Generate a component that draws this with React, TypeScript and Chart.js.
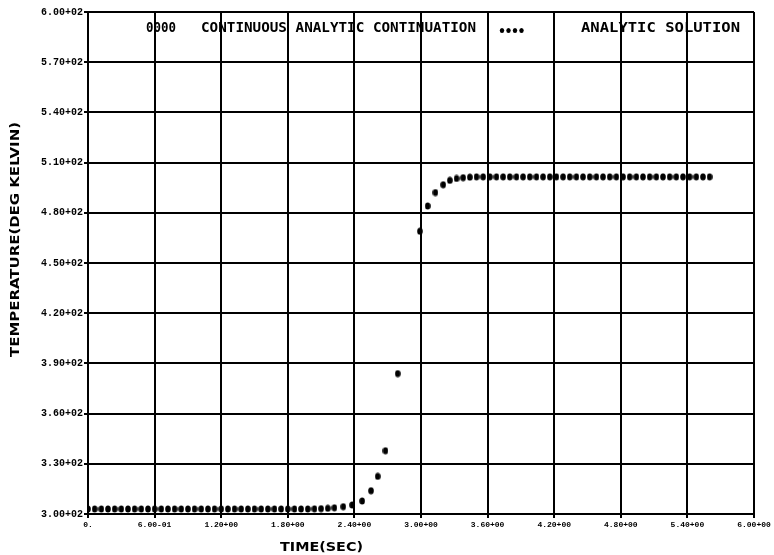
import React, { useEffect, useRef } from "react";
import { Chart, registerables } from "chart.js";

Chart.register(...registerables);

// Time samples (s) and computed temperature (K)
const TIME_SEC = [
  0.0, 0.06, 0.12, 0.18, 0.24, 0.3, 0.36, 0.42, 0.48, 0.54,
  0.6, 0.66, 0.72, 0.78, 0.84, 0.9, 0.96, 1.02, 1.08, 1.14,
  1.2, 1.26, 1.32, 1.38, 1.44, 1.5, 1.56, 1.62, 1.68, 1.74,
  1.8, 1.86, 1.92, 1.98, 2.04, 2.1, 2.16, 2.22,
  2.3, 2.38, 2.47, 2.55, 2.61, 2.68, 2.79, 2.99, 3.06, 3.13,
  3.2, 3.26, 3.32, 3.38, 3.44,
  3.5, 3.56, 3.62, 3.68, 3.74, 3.8, 3.86, 3.92, 3.98, 4.04,
  4.1, 4.16, 4.22, 4.28, 4.34, 4.4, 4.46, 4.52, 4.58, 4.64,
  4.7, 4.76, 4.82, 4.88, 4.94, 5.0, 5.06, 5.12, 5.18, 5.24,
  5.3, 5.36, 5.42, 5.48, 5.54, 5.6,
];

const TEMP_K = [
  303.0, 303.0, 303.0, 303.0, 303.0, 303.0, 303.0, 303.0, 303.0, 303.0,
  303.0, 303.0, 303.0, 303.0, 303.0, 303.0, 303.0, 303.0, 303.0, 303.0,
  303.0, 303.0, 303.0, 303.0, 303.0, 303.0, 303.0, 303.0, 303.0, 303.0,
  303.0, 303.0, 303.0, 303.0, 303.1, 303.2, 303.4, 303.7,
  304.4, 305.4, 307.8, 313.9, 322.5, 337.8, 383.9, 469.0, 484.1, 492.1,
  496.8, 499.4, 500.5, 501.0, 501.3,
  501.5, 501.5, 501.5, 501.5, 501.5, 501.5, 501.5, 501.5, 501.5, 501.5,
  501.5, 501.5, 501.5, 501.5, 501.5, 501.5, 501.5, 501.5, 501.5, 501.5,
  501.5, 501.5, 501.5, 501.5, 501.5, 501.5, 501.5, 501.5, 501.5, 501.5,
  501.5, 501.5, 501.5, 501.5, 501.5, 501.5,
];

const X_TICKS = [0, 0.6, 1.2, 1.8, 2.4, 3.0, 3.6, 4.2, 4.8, 5.4, 6.0];
const X_TICK_LABELS = [
  "0.", "6.00-01", "1.20+00", "1.80+00", "2.40+00", "3.00+00",
  "3.60+00", "4.20+00", "4.80+00", "5.40+00", "6.00+00",
];
const Y_TICKS = [300, 330, 360, 390, 420, 450, 480, 510, 540, 570, 600];
const Y_TICK_LABELS = [
  "3.00+02", "3.30+02", "3.60+02", "3.90+02", "4.20+02", "4.50+02",
  "4.80+02", "5.10+02", "5.40+02", "5.70+02", "6.00+02",
];

const LEGEND_MARK = "0000";
const LEGEND_TEXT_1 = "CONTINUOUS ANALYTIC CONTINUATION";
const LEGEND_DOT_COUNT = 4;
const LEGEND_TEXT_2 = "ANALYTIC SOLUTION";
const X_TITLE = "TIME(SEC)";
const Y_TITLE = "TEMPERATURE(DEG KELVIN)";

const INK = "#000000";

// Draw text squeezed/stretched horizontally to span [x0, x1], vertically centred on caps at cy.
function drawFit(
  ctx: CanvasRenderingContext2D,
  text: string,
  x0: number,
  x1: number,
  cy: number,
  size: number,
  family: string
) {
  ctx.save();
  ctx.font = `bold ${size}px ${family}`;
  const w = ctx.measureText(text).width;
  ctx.translate(x0, cy + size * 0.36);
  ctx.scale((x1 - x0) / w, 1);
  ctx.textAlign = "left";
  ctx.textBaseline = "alphabetic";
  ctx.fillStyle = INK;
  ctx.fillText(text, 0, 0);
  ctx.restore();
}

const annotations = {
  id: "plotAnnotations",
  afterDraw(chart: Chart) {
    const ctx = chart.ctx;
    const mono = '"DejaVu Sans Mono", monospace';
    const sans = '"DejaVu Sans", sans-serif';
    // Legend line across the top of the plot
    drawFit(ctx, LEGEND_MARK, 146, 176, 27, 14, mono);
    drawFit(ctx, LEGEND_TEXT_1, 201, 476, 27, 14, mono);
    ctx.save();
    ctx.fillStyle = INK;
    for (let k = 0; k < LEGEND_DOT_COUNT; k++) {
      ctx.beginPath();
      ctx.ellipse(502 + k * 6.5, 30.5, 2.2, 2.6, 0, 0, Math.PI * 2);
      ctx.fill();
    }
    ctx.restore();
    drawFit(ctx, LEGEND_TEXT_2, 581, 740, 27, 14, mono);
    // X axis title
    drawFit(ctx, X_TITLE, 280, 363, 546, 13, sans);
    // Y axis title (rotated)
    ctx.save();
    ctx.translate(15, 357);
    ctx.rotate(-Math.PI / 2);
    drawFit(ctx, Y_TITLE, 0, 235, 0, 12, sans);
    ctx.restore();
  },
};

function makeDot(): HTMLCanvasElement {
  const c = document.createElement("canvas");
  c.width = 6;
  c.height = 8;
  const g = c.getContext("2d")!;
  g.fillStyle = INK;
  g.beginPath();
  g.ellipse(3, 4, 2.8, 3.5, 0, 0, Math.PI * 2);
  g.fill();
  return c;
}

export default function App() {
  const ref = useRef<HTMLCanvasElement | null>(null);

  useEffect(() => {
    if (!ref.current) return;
    const dot = makeDot();
    const points = TIME_SEC.map((t, i) => ({ x: t, y: TEMP_K[i] }));
    const chart = new Chart(ref.current, {
      type: "scatter",
      data: {
        datasets: [
          {
            label: "temperature",
            data: points,
            pointStyle: dot as any,
            pointRadius: 3,
            backgroundColor: INK,
            borderColor: INK,
          },
        ],
      },
      options: {
        animation: false,
        responsive: false,
        layout: { padding: { top: 12, right: 20, left: 0, bottom: 0 } },
        plugins: {
          legend: { display: false },
          tooltip: { enabled: false },
        },
        scales: {
          x: {
            type: "linear",
            min: 0,
            max: 6,
            afterBuildTicks: (scale: any) => {
              scale.ticks = X_TICKS.map((v) => ({ value: v }));
            },
            afterFit: (scale: any) => {
              scale.height = 41;
            },
            ticks: {
              autoSkip: false,
              maxRotation: 0,
              minRotation: 0,
              padding: 2,
              color: INK,
              font: { family: '"Liberation Mono", monospace', size: 8, weight: "bold" },
              callback: (_v: any, i: number) => X_TICK_LABELS[i],
            },
            grid: { color: INK, lineWidth: 2, tickLength: 4, drawTicks: true },
            border: { color: INK, width: 2 },
          },
          y: {
            type: "linear",
            min: 300,
            max: 600,
            afterBuildTicks: (scale: any) => {
              scale.ticks = Y_TICKS.map((v) => ({ value: v }));
            },
            afterFit: (scale: any) => {
              scale.width = 88;
            },
            ticks: {
              autoSkip: false,
              padding: 1,
              color: INK,
              font: { family: '"Liberation Mono", monospace', size: 10, weight: "bold" },
              callback: (_v: any, i: number) => Y_TICK_LABELS[i],
            },
            grid: { color: INK, lineWidth: 2, tickLength: 4, drawTicks: true },
            border: { color: INK, width: 2 },
          },
        },
      },
      plugins: [annotations],
    });
    return () => chart.destroy();
  }, []);

  return (
    <div style={{ position: "absolute", left: 0, top: 0, width: 774, height: 555, background: "#fff" }}>
      <canvas ref={ref} width={774} height={555} style={{ display: "block" }} />
    </div>
  );
}
